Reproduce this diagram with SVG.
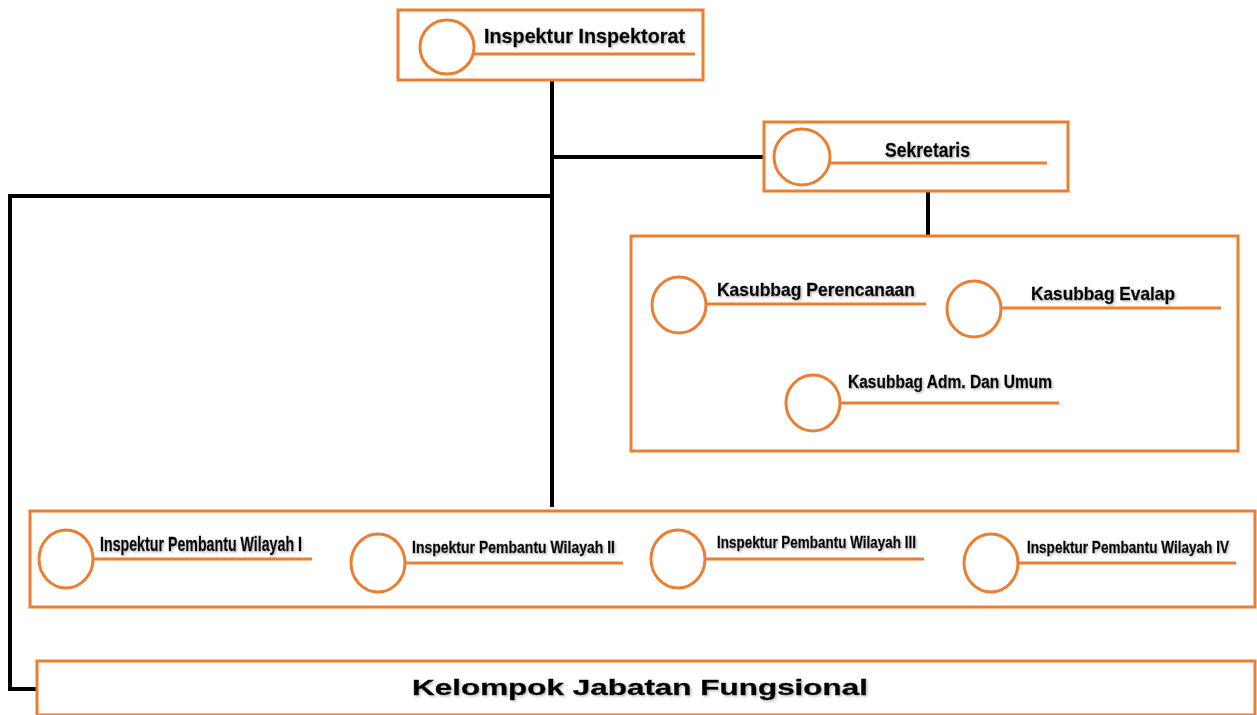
<svg xmlns="http://www.w3.org/2000/svg" width="1257" height="715" viewBox="0 0 1257 715">
<style>
.box{fill:#fff;stroke:#ED7D31;stroke-width:3}
.circ{fill:#fff;stroke:#ED7D31;stroke-width:3}
.ul{stroke:#ED7D31;stroke-width:3;fill:none}
.conn{stroke:#000;stroke-width:4;fill:none}
.t{font-family:"Liberation Sans",Arial,sans-serif;font-weight:bold;fill:#000;stroke:#000;stroke-width:0.4;filter:url(#sh)}
</style>
<defs>
<filter id="sh" x="-5%" y="-30%" width="110%" height="160%">
<feDropShadow dx="1.5" dy="1.5" stdDeviation="0.8" flood-color="#999" flood-opacity="0.6"/>
</filter>
</defs>
<rect width="1257" height="715" fill="#fff"/>
<g id="connectors">
<line class="conn" x1="552" y1="80" x2="552" y2="507"/>
<line class="conn" x1="552" y1="157" x2="763" y2="157"/>
<polyline class="conn" points="552,196 10,196 10,689 36,689" stroke-width="3.5"/>
<line class="conn" x1="928" y1="191" x2="928" y2="235"/>
</g>
<g id="inspektur">
<rect class="box" x="398" y="10" width="305" height="70"/>
<line class="ul" x1="474" y1="54" x2="695" y2="54"/>
<circle class="circ" cx="447" cy="47" r="27"/>
<text class="t" x="484" y="43" font-size="21" textLength="201" lengthAdjust="spacingAndGlyphs">Inspektur Inspektorat</text>
</g>
<g id="sekretaris">
<rect class="box" x="764" y="122" width="304" height="69"/>
<line class="ul" x1="830" y1="163" x2="1047" y2="163"/>
<circle class="circ" cx="802" cy="157" r="28"/>
<text class="t" x="885" y="157" font-size="21" textLength="85" lengthAdjust="spacingAndGlyphs">Sekretaris</text>
</g>
<g id="kasubbag">
<rect class="box" x="631" y="236" width="607" height="215"/>
<g id="perencanaan">
<line class="ul" x1="706" y1="304" x2="926" y2="304"/>
<ellipse class="circ" cx="679" cy="305" rx="27" ry="28"/>
<text class="t" x="717" y="296" font-size="18.5" textLength="198" lengthAdjust="spacingAndGlyphs">Kasubbag Perencanaan</text>
</g>
<g id="evalap">
<line class="ul" x1="1001" y1="308" x2="1221" y2="308"/>
<ellipse class="circ" cx="974" cy="309" rx="27" ry="28"/>
<text class="t" x="1031" y="300" font-size="18.5" textLength="144" lengthAdjust="spacingAndGlyphs">Kasubbag Evalap</text>
</g>
<g id="adm">
<line class="ul" x1="840" y1="403" x2="1059" y2="403"/>
<ellipse class="circ" cx="813" cy="403" rx="27" ry="28"/>
<text class="t" x="848" y="388" font-size="18" textLength="204" lengthAdjust="spacingAndGlyphs">Kasubbag Adm. Dan Umum</text>
</g>
</g>
<g id="wilayah">
<rect class="box" x="30" y="511" width="1225" height="96"/>
<g id="w1">
<line class="ul" x1="93" y1="559" x2="312" y2="559"/>
<ellipse class="circ" cx="66" cy="559" rx="27" ry="29"/>
<text class="t" x="100" y="551" font-size="20" textLength="202" lengthAdjust="spacingAndGlyphs">Inspektur Pembantu Wilayah I</text>
</g>
<g id="w2">
<line class="ul" x1="405" y1="563" x2="623" y2="563"/>
<ellipse class="circ" cx="378" cy="563" rx="27" ry="29"/>
<text class="t" x="412" y="553" font-size="16.5" textLength="203" lengthAdjust="spacingAndGlyphs">Inspektur Pembantu Wilayah II</text>
</g>
<g id="w3">
<line class="ul" x1="705" y1="559" x2="924" y2="559"/>
<ellipse class="circ" cx="678" cy="559" rx="27" ry="29"/>
<text class="t" x="717" y="548" font-size="16.5" textLength="199" lengthAdjust="spacingAndGlyphs">Inspektur Pembantu Wilayah III</text>
</g>
<g id="w4">
<line class="ul" x1="1018" y1="563" x2="1236" y2="563"/>
<ellipse class="circ" cx="991" cy="563" rx="27" ry="29"/>
<text class="t" x="1027" y="553" font-size="16.5" textLength="202" lengthAdjust="spacingAndGlyphs">Inspektur Pembantu Wilayah IV</text>
</g>
</g>
<g id="fungsional">
<rect class="box" x="37" y="661" width="1218" height="54"/>
<text class="t" x="412" y="695" font-size="22" textLength="456" lengthAdjust="spacingAndGlyphs">Kelompok Jabatan Fungsional</text>
</g>
</svg>
